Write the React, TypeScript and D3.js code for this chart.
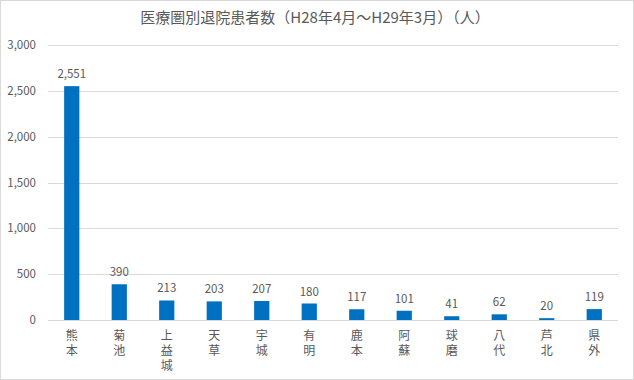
import React from "react";
import * as d3 from "d3";

const categories = ["熊本", "菊池", "上益城", "天草", "宇城", "有明", "鹿本", "阿蘇", "球磨", "八代", "芦北", "県外"];
const values = [2551, 390, 213, 203, 207, 180, 117, 101, 41, 62, 20, 119];
const yTicks = [0, 500, 1000, 1500, 2000, 2500, 3000];
const title = "医療圏別退院患者数（H28年4月～H29年3月）（人）";

const W = 634;
const H = 380;
const M = { left: 48, right: 16, top: 45, bottom: 60 };

export default function App() {
  const x = d3
    .scaleBand<string>()
    .domain(categories)
    .range([M.left, W - M.right])
    .paddingInner(0.68)
    .paddingOuter(0.34);
  const y = d3.scaleLinear().domain([0, 3000]).range([H - M.bottom, M.top]);
  const fmt = d3.format(",");
  const font = "'Noto Sans CJK JP', 'Noto Sans', sans-serif";
  const textColor = "#595959";

  return (
    <svg
      width={W}
      height={H}
      style={{ position: "absolute", left: 0, top: 0, background: "#fff" }}
      fontFamily={font}
    >
      <rect x={0.5} y={0.5} width={W - 1} height={H - 1} fill="#fff" stroke="#d9d9d9" />
      <text x={W / 2 - 2} y={23} textAnchor="middle" fontSize={15} fill={textColor}>
        {title}
      </text>
      {yTicks.map((t) => (
        <g key={t}>
          <line
            x1={M.left}
            x2={W - M.right}
            y1={Math.round(y(t)) + 0.5}
            y2={Math.round(y(t)) + 0.5}
            stroke="#d9d9d9"
          />
          <text x={36} y={y(t) + 4} textAnchor="end" fontSize={11.5} fill={textColor}>
            {fmt(t)}
          </text>
        </g>
      ))}
      {categories.map((c, i) => {
        const cx = (x(c) as number) + x.bandwidth() / 2;
        return (
          <g key={c}>
            <rect
              x={x(c)}
              y={y(values[i])}
              width={x.bandwidth()}
              height={y(0) - y(values[i])}
              fill="#0070C0"
            />
            <text
              x={cx}
              y={y(values[i]) - 8}
              textAnchor="middle"
              fontSize={11.5}
              fill={textColor}
            >
              {fmt(values[i])}
            </text>
            <text
              x={cx}
              y={329}
              fontSize={12}
              fill={textColor}
              style={{ writingMode: "vertical-rl", textOrientation: "upright", letterSpacing: "3px" }}
            >
              {c}
            </text>
          </g>
        );
      })}
    </svg>
  );
}
